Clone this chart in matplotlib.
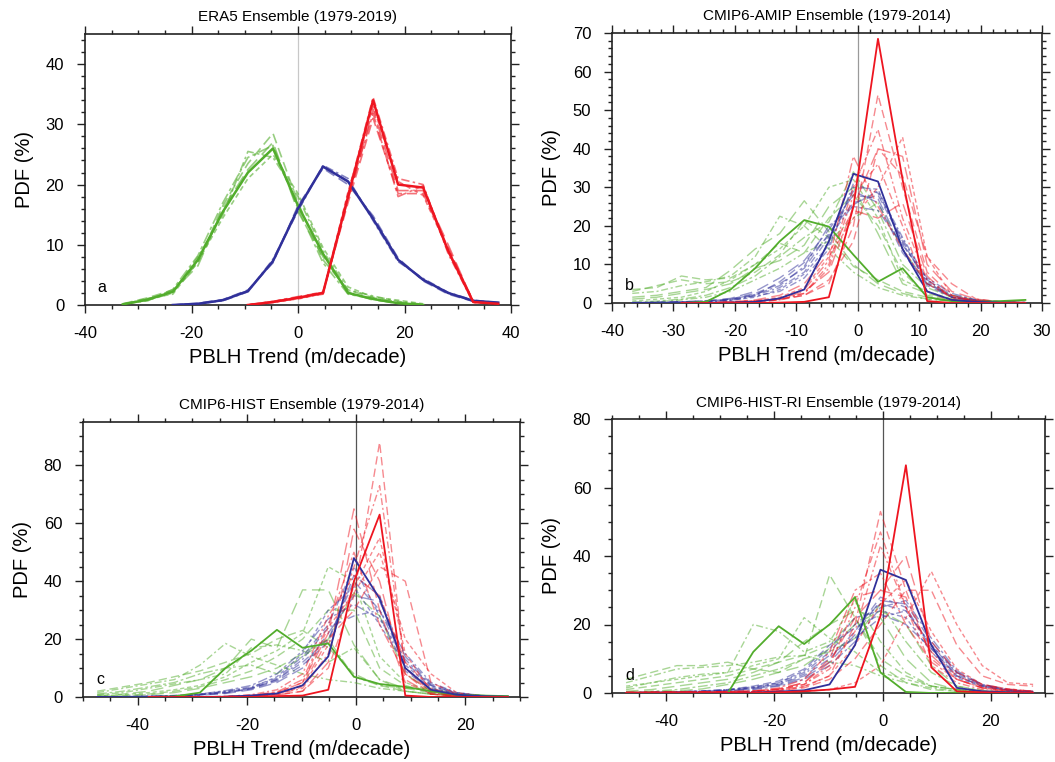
import numpy as np
import matplotlib
matplotlib.use("Agg")
import matplotlib.pyplot as plt
from matplotlib.ticker import MultipleLocator

nan = np.nan
plt.rcParams['font.family'] = ['Liberation Sans', 'DejaVu Sans']
plt.rcParams['axes.unicode_minus'] = False

# ---------------- data ----------------
titles = ["ERA5 Ensemble (1979-2019)", "CMIP6-AMIP Ensemble (1979-2014)",
          "CMIP6-HIST Ensemble (1979-2014)", "CMIP6-HIST-RI Ensemble (1979-2014)"]
letters = ["a", "b", "c", "d"]
xlabel = "PBLH Trend (m/decade)"
ylabel = "PDF (%)"

# bin centres
x_a = [-37.6, -32.9, -28.2, -23.5, -18.8, -14.1, -9.4, -4.7, 0.0, 4.7, 9.4, 14.1, 18.8, 23.5, 28.2, 32.9, 37.6]
x_b = [-36.7, -32.7, -28.7, -24.7, -20.7, -16.7, -12.7, -8.7, -4.7, -0.7, 3.3, 7.3, 11.3, 15.3, 19.3, 23.3, 27.3]
x_c = [-47.4, -42.7, -38.0, -33.3, -28.6, -23.9, -19.2, -14.5, -9.8, -5.1, -0.4, 4.3, 9.0, 13.7, 18.4, 23.1, 27.8]
x_d = [-47.4, -42.7, -38.0, -33.3, -28.6, -23.9, -19.2, -14.5, -9.8, -5.1, -0.4, 4.3, 9.0, 13.7, 18.4, 23.1, 27.8]

# ---- panel a (ERA5) ----
green_a_mean = [nan, 0.1, 0.9, 2.2, 7.5, 15.5, 22.0, 26.0, 16.5, 8.5, 2.0, 1.0, 0.3, 0.0, nan, nan, nan]
green_a_members = [
    [nan, 0.2, 1.2, 2.5, 7.0, 16.5, 23.5, 28.5, 17.0, 7.5, 2.5, 1.2, 0.5, 0.1, nan, nan, nan],
    [nan, 0.1, 0.8, 2.0, 8.0, 15.0, 25.5, 24.5, 18.0, 9.0, 2.5, 1.5, 0.6, 0.1, nan, nan, nan],
    [nan, 0.0, 1.0, 2.3, 6.5, 16.0, 22.5, 27.0, 15.5, 8.0, 2.2, 0.8, 0.4, 0.0, nan, nan, nan],
    [nan, 0.1, 1.1, 1.8, 7.2, 14.5, 21.0, 25.0, 18.5, 9.5, 3.0, 1.3, 0.8, 0.2, nan, nan, nan],
    [nan, 0.2, 0.7, 2.6, 8.2, 17.0, 24.5, 26.5, 16.0, 7.0, 1.8, 1.0, 0.2, 0.0, nan, nan, nan],
]
blue_a_mean = [nan, nan, nan, 0.0, 0.2, 0.8, 2.3, 7.3, 16.0, 23.0, 20.5, 14.3, 7.5, 4.2, 2.0, 0.7, 0.4]
blue_a_members = [
    [nan, nan, nan, 0.0, 0.3, 0.9, 2.5, 7.0, 16.5, 22.7, 20.0, 14.8, 7.8, 4.0, 1.8, 0.6, 0.3],
    [nan, nan, nan, 0.0, 0.2, 0.7, 2.2, 7.6, 15.6, 23.2, 21.0, 14.0, 7.2, 4.4, 2.1, 0.8, 0.4],
    [nan, nan, nan, 0.0, 0.2, 0.8, 2.4, 7.2, 16.2, 22.9, 20.6, 14.5, 7.6, 4.1, 2.0, 0.7, 0.3],
]
red_a_mean = [nan, nan, nan, nan, nan, nan, 0.0, 0.5, 1.2, 2.0, 18.0, 34.0, 20.0, 19.5, 9.0, 0.5, 0.2]
red_a_members = [
    [nan, nan, nan, nan, nan, nan, 0.0, 0.6, 1.3, 2.2, 17.0, 31.0, 18.5, 18.5, 9.5, 0.6, 0.2],
    [nan, nan, nan, nan, nan, nan, 0.0, 0.4, 1.1, 1.8, 18.5, 34.5, 21.0, 20.0, 8.5, 0.4, 0.1],
    [nan, nan, nan, nan, nan, nan, 0.0, 0.5, 1.2, 2.1, 17.5, 32.5, 19.0, 19.0, 10.0, 0.5, 0.2],
    [nan, nan, nan, nan, nan, nan, 0.0, 0.5, 1.0, 1.9, 18.8, 33.0, 20.5, 18.2, 9.2, 0.7, 0.3],
    [nan, nan, nan, nan, nan, nan, 0.0, 0.6, 1.4, 2.0, 17.8, 31.8, 18.0, 19.8, 8.8, 0.5, 0.2],
]

# ---- panel b (AMIP) ----
green_b_mean = [nan, 0.0, 0.0, 0.3, 3.5, 9.0, 16.0, 21.5, 19.8, 12.5, 5.5, 9.0, 1.5, 0.5, 0.3, 0.5, 0.8]
green_b_members = [
    [3.5, 4.0, 7.0, 6.0, 6.5, 10.0, 15.5, 13.0, 22.0, 28.0, 20.0, 8.0, 2.0, 0.8, 0.3, 0.1, 0.0],
    [2.5, 3.0, 4.5, 5.5, 7.0, 12.0, 22.5, 20.0, 14.0, 8.0, 4.0, 2.0, 1.0, 0.5, 0.3, 0.1, 0.0],
    [1.5, 2.0, 3.0, 4.0, 8.5, 14.0, 18.0, 26.5, 18.5, 10.0, 5.0, 2.5, 1.0, 0.5, 0.2, 0.1, 0.0],
    [0.5, 1.0, 1.5, 3.0, 6.0, 10.0, 14.0, 20.0, 30.0, 32.0, 22.0, 6.0, 3.0, 1.0, 0.5, 0.2, 0.1],
    [0.2, 0.5, 1.0, 2.0, 4.0, 7.0, 12.0, 17.0, 21.0, 34.0, 24.0, 10.0, 4.0, 1.5, 0.5, 0.2, 0.1],
    [3.0, 4.5, 6.0, 5.0, 5.5, 8.0, 12.5, 21.5, 17.0, 9.5, 6.0, 3.0, 1.5, 0.5, 0.3, 0.1, 0.0],
    [0.0, 0.3, 0.8, 1.5, 3.0, 6.0, 9.0, 13.0, 16.0, 22.0, 26.0, 14.0, 5.0, 2.0, 0.8, 0.3, 0.1],
    [1.0, 1.5, 2.5, 3.5, 5.0, 9.0, 11.0, 15.0, 25.0, 30.0, 18.0, 5.0, 2.5, 1.0, 0.4, 0.2, 0.0],
]
blue_b_mean = [0.0, 0.0, 0.0, 0.0, 0.1, 0.3, 1.2, 3.5, 16.0, 33.5, 31.5, 14.0, 3.0, 0.8, 0.3, 0.1, 0.0]
blue_b_members = [
    [0.1, 0.2, 0.3, 0.5, 1.0, 2.5, 5.0, 9.0, 18.0, 26.0, 28.0, 16.0, 5.0, 1.5, 0.5, 0.2, 0.1],
    [0.0, 0.1, 0.2, 0.4, 0.8, 2.0, 4.0, 8.0, 17.0, 25.5, 29.0, 17.0, 6.0, 2.0, 0.8, 0.3, 0.1],
    [0.1, 0.2, 0.3, 0.6, 1.2, 3.0, 6.5, 11.0, 19.0, 28.0, 27.0, 14.0, 4.5, 1.5, 0.5, 0.2, 0.1],
    [0.0, 0.1, 0.2, 0.3, 0.7, 1.5, 3.5, 7.5, 15.0, 30.0, 29.5, 15.5, 5.5, 1.5, 0.6, 0.2, 0.1],
    [0.0, 0.1, 0.3, 0.5, 1.0, 2.2, 4.5, 9.5, 20.0, 25.0, 24.0, 15.0, 6.5, 2.5, 0.8, 0.3, 0.1],
    [0.1, 0.1, 0.2, 0.4, 0.9, 2.0, 5.5, 10.5, 17.5, 29.0, 26.0, 13.0, 5.0, 1.8, 0.6, 0.2, 0.1],
    [0.0, 0.0, 0.2, 0.3, 0.6, 1.8, 3.0, 6.5, 14.0, 31.0, 28.5, 16.5, 6.0, 1.5, 0.5, 0.2, 0.0],
]
red_b_mean = [nan, nan, 0.0, 0.0, 0.0, 0.0, 0.1, 0.3, 1.5, 25.0, 68.5, 32.0, 0.5, 0.0, 0.0, 0.0, 0.0]
red_b_members = [
    [nan, nan, 0.0, 0.0, 0.2, 0.5, 1.0, 2.0, 5.0, 20.0, 54.0, 30.0, 8.0, 2.0, 0.5, 0.2, 0.0],
    [nan, nan, 0.0, 0.0, 0.1, 0.3, 0.8, 2.5, 10.0, 30.0, 45.0, 22.0, 6.0, 1.5, 0.4, 0.1, 0.0],
    [nan, nan, 0.0, 0.0, 0.2, 0.4, 1.0, 3.0, 8.0, 25.0, 40.0, 38.0, 10.0, 3.0, 1.0, 0.3, 0.1],
    [nan, nan, 0.0, 0.0, 0.3, 0.6, 1.5, 4.0, 12.0, 22.0, 30.0, 43.0, 12.0, 2.0, 0.5, 0.2, 0.0],
    [nan, nan, 0.0, 0.0, 0.2, 0.5, 1.2, 3.5, 11.0, 38.0, 25.0, 14.0, 5.0, 1.5, 0.5, 0.2, 0.0],
    [nan, nan, 0.0, 0.0, 0.1, 0.3, 0.8, 2.0, 6.0, 16.0, 40.0, 33.0, 12.0, 5.0, 1.0, 0.3, 0.1],
    [nan, nan, 0.0, 0.0, 0.2, 0.5, 1.0, 2.5, 9.0, 28.0, 36.0, 20.0, 3.0, 0.5, 0.2, 0.0, 0.0],
    [nan, nan, 0.0, 0.0, 0.3, 0.8, 2.0, 5.0, 13.0, 24.0, 22.0, 26.0, 7.0, 1.0, 0.3, 0.1, 0.0],
]

# ---- panel c (HIST) ----
green_c_mean = [nan, 0.0, 0.0, 0.2, 1.5, 10.0, 16.0, 23.2, 17.0, 18.5, 7.0, 4.5, 3.5, 2.0, 0.8, 0.5, 0.3]
green_c_members = [
    [2.0, 3.5, 5.0, 7.0, 9.0, 12.0, 15.0, 20.0, 23.0, 17.0, 8.0, 4.0, 2.0, 1.0, 0.5, 0.3, 0.2],
    [1.5, 3.0, 4.5, 6.0, 11.0, 18.5, 14.0, 11.0, 8.0, 6.0, 5.0, 3.0, 2.0, 1.0, 0.5, 0.3, 0.1],
    [0.5, 1.0, 2.0, 4.0, 6.0, 10.0, 20.0, 17.0, 37.0, 37.0, 18.0, 6.0, 3.0, 1.5, 0.5, 0.2, 0.1],
    [0.3, 0.8, 1.5, 2.5, 4.0, 7.0, 12.0, 16.0, 22.0, 45.0, 40.0, 14.0, 5.0, 2.0, 0.8, 0.3, 0.1],
    [1.0, 2.0, 3.5, 5.0, 8.0, 10.0, 11.0, 8.0, 14.0, 20.0, 7.0, 4.0, 3.0, 3.0, 1.0, 0.5, 0.2],
    [0.2, 0.5, 1.0, 2.0, 3.5, 6.0, 9.0, 14.0, 20.0, 30.0, 30.0, 10.0, 4.0, 1.5, 0.5, 0.2, 0.1],
    [0.8, 1.5, 3.0, 4.5, 6.0, 8.0, 17.0, 18.0, 16.0, 12.0, 17.0, 6.0, 2.0, 1.0, 0.5, 0.2, 0.1],
    [0.1, 0.3, 0.8, 1.5, 3.0, 5.0, 7.0, 10.0, 15.0, 20.0, 36.0, 28.0, 8.0, 2.0, 0.5, 0.2, 0.1],
]
blue_c_mean = [0.0, 0.0, 0.0, 0.0, 0.0, 0.1, 0.5, 1.2, 4.0, 14.0, 48.0, 34.0, 10.0, 2.5, 0.8, 0.3, 0.1]
blue_c_members = [
    [0.0, 0.1, 0.2, 0.4, 0.8, 1.5, 3.0, 6.0, 12.0, 20.0, 40.0, 30.0, 12.0, 4.0, 1.2, 0.4, 0.1],
    [0.0, 0.1, 0.3, 0.5, 1.0, 2.0, 3.5, 6.5, 14.0, 25.0, 45.0, 28.0, 10.0, 3.0, 1.0, 0.3, 0.1],
    [0.0, 0.0, 0.1, 0.3, 0.6, 1.2, 2.5, 5.0, 10.0, 22.0, 35.0, 33.0, 14.0, 4.5, 1.5, 0.5, 0.1],
    [0.0, 0.1, 0.2, 0.4, 0.9, 1.8, 3.2, 7.0, 15.0, 30.0, 38.0, 25.0, 11.0, 3.5, 1.0, 0.3, 0.1],
    [0.0, 0.1, 0.2, 0.5, 1.0, 2.2, 4.0, 8.0, 16.0, 27.0, 32.0, 27.0, 13.0, 4.0, 1.2, 0.4, 0.1],
    [0.0, 0.0, 0.1, 0.3, 0.7, 1.4, 2.8, 5.5, 11.0, 19.0, 42.0, 35.0, 9.0, 2.5, 0.8, 0.3, 0.1],
    [0.0, 0.1, 0.2, 0.4, 0.8, 1.6, 3.0, 6.0, 13.0, 24.0, 28.0, 30.0, 15.0, 5.0, 1.5, 0.5, 0.2],
]
red_c_mean = [nan, nan, 0.0, 0.0, 0.0, 0.0, 0.0, 0.3, 0.5, 2.5, 40.0, 63.0, 0.5, 0.0, 0.0, 0.0, 0.0]
red_c_members = [
    [0.0, 0.0, 0.0, 0.0, 0.0, 0.1, 0.3, 0.8, 2.0, 10.0, 35.0, 88.0, 8.0, 1.0, 0.3, 0.1, 0.0],
    [0.0, 0.0, 0.0, 0.0, 0.0, 0.1, 0.4, 1.0, 3.0, 15.0, 45.0, 73.0, 10.0, 1.5, 0.4, 0.1, 0.0],
    [0.0, 0.0, 0.0, 0.0, 0.0, 0.2, 0.5, 1.5, 5.0, 22.0, 65.0, 30.0, 5.0, 1.0, 0.3, 0.1, 0.0],
    [0.0, 0.0, 0.0, 0.0, 0.0, 0.1, 0.3, 1.0, 3.5, 18.0, 38.0, 55.0, 15.0, 2.0, 0.5, 0.1, 0.0],
    [0.0, 0.0, 0.0, 0.0, 0.0, 0.2, 0.6, 1.8, 6.0, 25.0, 50.0, 25.0, 8.0, 2.0, 0.5, 0.2, 0.0],
    [0.0, 0.0, 0.0, 0.0, 0.0, 0.1, 0.4, 1.2, 4.0, 20.0, 30.0, 45.0, 40.0, 5.0, 1.0, 0.2, 0.0],
    [0.0, 0.0, 0.0, 0.0, 0.0, 0.2, 0.8, 2.5, 8.0, 28.0, 42.0, 35.0, 12.0, 3.0, 0.6, 0.2, 0.0],
    [0.0, 0.0, 0.0, 0.0, 0.0, 0.1, 0.2, 0.6, 2.0, 12.0, 58.0, 40.0, 6.0, 1.0, 0.3, 0.1, 0.0],
    [0.0, 0.0, 0.0, 0.0, 0.0, 0.1, 0.5, 1.5, 5.0, 24.0, 36.0, 50.0, 20.0, 8.0, 1.5, 0.3, 0.0],
]

# ---- panel d (HIST-RI) ----
green_d_mean = [nan, 0.0, 0.0, 0.0, 0.0, 12.0, 19.5, 14.3, 20.0, 28.0, 6.0, 0.3, 0.0, 0.0, 0.0, 0.0, 0.0]
green_d_members = [
    [4.0, 6.0, 8.0, 8.0, 9.0, 7.0, 6.0, 10.0, 34.5, 22.0, 8.0, 3.0, 1.0, 0.5, 0.3, 0.2, 0.1],
    [1.5, 3.0, 4.5, 5.5, 6.0, 20.0, 18.0, 12.0, 15.0, 27.0, 15.0, 6.0, 2.0, 1.0, 0.5, 0.2, 0.1],
    [0.5, 1.0, 2.0, 3.0, 4.0, 6.0, 9.0, 15.0, 20.0, 24.0, 22.0, 10.0, 3.0, 1.0, 0.5, 0.2, 0.1],
    [2.0, 3.0, 4.0, 5.0, 6.0, 8.0, 10.0, 22.0, 16.0, 12.0, 6.0, 4.0, 2.0, 1.0, 0.4, 0.2, 0.1],
    [0.2, 0.5, 1.0, 2.0, 3.0, 5.0, 7.0, 10.0, 12.0, 16.0, 26.0, 15.0, 6.0, 2.0, 0.8, 0.3, 0.1],
    [1.0, 2.0, 3.0, 4.0, 5.0, 7.0, 9.0, 11.0, 14.0, 22.0, 10.0, 5.0, 2.0, 1.0, 0.3, 0.1, 0.0],
    [3.0, 5.0, 7.0, 7.5, 8.0, 9.0, 10.5, 11.0, 9.0, 8.0, 5.0, 3.0, 1.5, 0.5, 0.2, 0.1, 0.0],
    [0.1, 0.3, 0.6, 1.2, 2.5, 4.0, 6.0, 8.0, 13.0, 20.0, 24.0, 20.0, 8.0, 2.0, 0.5, 0.2, 0.1],
]
blue_d_mean = [0.0, 0.0, 0.0, 0.0, 0.0, 0.1, 0.4, 0.8, 2.5, 14.0, 36.0, 33.0, 14.0, 1.5, 0.5, 0.2, 0.1]
blue_d_members = [
    [0.1, 0.2, 0.3, 0.5, 0.8, 1.5, 2.5, 5.0, 10.0, 18.0, 28.0, 25.0, 13.0, 5.0, 2.0, 0.8, 0.3],
    [0.1, 0.2, 0.4, 0.6, 1.0, 1.8, 3.0, 6.0, 12.0, 20.0, 26.0, 24.0, 14.0, 5.5, 2.2, 0.9, 0.4],
    [0.0, 0.1, 0.2, 0.4, 0.7, 1.2, 2.2, 4.5, 9.0, 17.0, 27.0, 26.0, 15.0, 6.0, 2.5, 1.0, 0.4],
    [0.1, 0.2, 0.3, 0.5, 0.9, 1.6, 3.0, 6.5, 13.0, 22.0, 24.0, 22.0, 12.0, 4.5, 1.8, 0.7, 0.3],
    [0.0, 0.1, 0.2, 0.3, 0.6, 1.0, 2.0, 4.0, 8.0, 15.0, 25.0, 27.0, 16.0, 6.5, 2.5, 1.0, 0.5],
    [0.1, 0.2, 0.3, 0.6, 1.0, 2.0, 3.5, 7.0, 14.0, 19.0, 23.0, 20.0, 13.0, 5.0, 2.0, 0.8, 0.3],
    [0.0, 0.1, 0.2, 0.4, 0.8, 1.4, 2.6, 5.5, 11.0, 16.0, 22.0, 24.0, 14.0, 6.0, 2.3, 0.9, 0.4],
]
red_d_mean = [0.0, 0.0, 0.0, 0.0, 0.0, 0.0, 0.2, 0.5, 1.0, 1.8, 22.5, 66.5, 7.5, 0.5, 0.2, 0.0, 0.0]
red_d_members = [
    [0.2, 0.3, 0.3, 0.3, 0.3, 0.4, 0.8, 2.0, 5.0, 20.0, 53.0, 30.0, 10.0, 4.0, 1.5, 0.8, 0.3],
    [0.2, 0.2, 0.3, 0.3, 0.4, 0.5, 1.0, 2.5, 8.0, 25.0, 47.0, 25.0, 12.0, 5.0, 2.0, 1.0, 0.5],
    [0.1, 0.2, 0.2, 0.3, 0.3, 0.5, 1.2, 3.0, 9.0, 22.0, 30.0, 40.0, 15.0, 6.0, 2.5, 1.2, 0.5],
    [0.0, 0.1, 0.1, 0.1, 0.2, 0.2, 0.3, 0.5, 1.0, 3.0, 8.0, 22.0, 35.5, 20.0, 8.0, 3.0, 2.5],
    [0.1, 0.2, 0.2, 0.3, 0.4, 0.6, 1.5, 4.0, 12.0, 30.0, 35.0, 20.0, 9.0, 4.0, 1.5, 0.5, 0.2],
    [0.0, 0.1, 0.1, 0.2, 0.2, 0.3, 0.6, 1.5, 4.0, 10.0, 20.0, 30.0, 30.0, 14.0, 5.0, 2.5, 2.0],
    [0.1, 0.1, 0.2, 0.3, 0.3, 0.5, 1.0, 2.5, 7.0, 18.0, 43.0, 25.0, 8.0, 3.0, 1.0, 0.5, 0.2],
    [0.2, 0.2, 0.3, 0.3, 0.4, 0.6, 1.2, 3.0, 10.0, 28.0, 30.0, 28.0, 11.0, 4.0, 1.5, 0.6, 0.2],
    [0.0, 0.1, 0.1, 0.2, 0.2, 0.3, 0.7, 1.8, 5.0, 14.0, 26.0, 33.0, 18.0, 7.0, 2.5, 1.2, 0.5],
]

# ---------------- styling ----------------
GREEN = "#52ad2c"
BLUE = "#30309a"
RED = "#ee1520"
dash_cycle = [(0, (6, 3)), (0, (5, 2, 1.5, 2)), (0, (9, 4)), (0, (3, 2)), (0, (7, 2, 2, 2))]

panels = [
    dict(x=x_a, g=(green_a_mean, green_a_members), b=(blue_a_mean, blue_a_members),
         r=(red_a_mean, red_a_members), xlim=(-40, 40), ylim=(0, 45), xmaj=20, xmin=5,
         ymaj=10, ymin=2, rect=[85, 34, 511, 305], zc="#c8c8c8", era=True),
    dict(x=x_b, g=(green_b_mean, green_b_members), b=(blue_b_mean, blue_b_members),
         r=(red_b_mean, red_b_members), xlim=(-40, 30), ylim=(0, 70), xmaj=10, xmin=2,
         ymaj=10, ymin=2, rect=[612, 33, 1042, 303], zc="#9a9a9a", era=False),
    dict(x=x_c, g=(green_c_mean, green_c_members), b=(blue_c_mean, blue_c_members),
         r=(red_c_mean, red_c_members), xlim=(-50, 30), ylim=(0, 95), xmaj=20, xmin=5,
         ymaj=20, ymin=5, rect=[83, 422, 520, 697], zc="#555555", era=False),
    dict(x=x_d, g=(green_d_mean, green_d_members), b=(blue_d_mean, blue_d_members),
         r=(red_d_mean, red_d_members), xlim=(-50, 30), ylim=(0, 80), xmaj=20, xmin=5,
         ymaj=20, ymin=5, rect=[612, 419, 1045, 693], zc="#555555", era=False),
]

W, H = 1055, 762
fig = plt.figure(figsize=(W / 100, H / 100), dpi=100)

for i, p in enumerate(panels):
    l, t, r, b = p["rect"]
    ax = fig.add_axes([l / W, 1 - b / H, (r - l) / W, (b - t) / H])
    ax.axvline(0, color=p["zc"], lw=0.9, zorder=1)
    x = np.array(p["x"])
    for key, col in (("g", GREEN), ("b", BLUE), ("r", RED)):
        mean, members = p[key]
        for k, m in enumerate(members):
            if p["era"]:
                ax.plot(x, m, color=col, lw=1.2, alpha=0.6, linestyle=dash_cycle[k % len(dash_cycle)], zorder=2)
            else:
                ax.plot(x, m, color=col, lw=1.0, alpha=0.5, linestyle=dash_cycle[k % len(dash_cycle)], zorder=2)
        ax.plot(x, mean, color=col, lw=1.8 if p["era"] else 1.3, zorder=3)
    ax.set_xlim(*p["xlim"])
    ax.set_ylim(*p["ylim"])
    ax.xaxis.set_major_locator(MultipleLocator(p["xmaj"]))
    ax.xaxis.set_minor_locator(MultipleLocator(p["xmin"]))
    ax.yaxis.set_major_locator(MultipleLocator(p["ymaj"]))
    ax.yaxis.set_minor_locator(MultipleLocator(p["ymin"]))
    ax.tick_params(which="both", direction="out", top=True, right=True, width=1.0, color="#222222")
    ax.tick_params(which="major", length=6, labelsize=12, pad=9)
    ax.tick_params(which="minor", length=3)
    for s in ax.spines.values():
        s.set_linewidth(1.2)
        s.set_color("#222222")
    ax.set_title(titles[i], fontsize=11, pad=9)
    ax.set_xlabel(xlabel, fontsize=14.5, labelpad=5)
    ax.set_ylabel(ylabel, fontsize=14.5, labelpad=8)
    ax.text(0.03, 0.065, letters[i], transform=ax.transAxes, fontsize=11.5, ha="left", va="center")

fig.savefig("out.png", dpi=100)
